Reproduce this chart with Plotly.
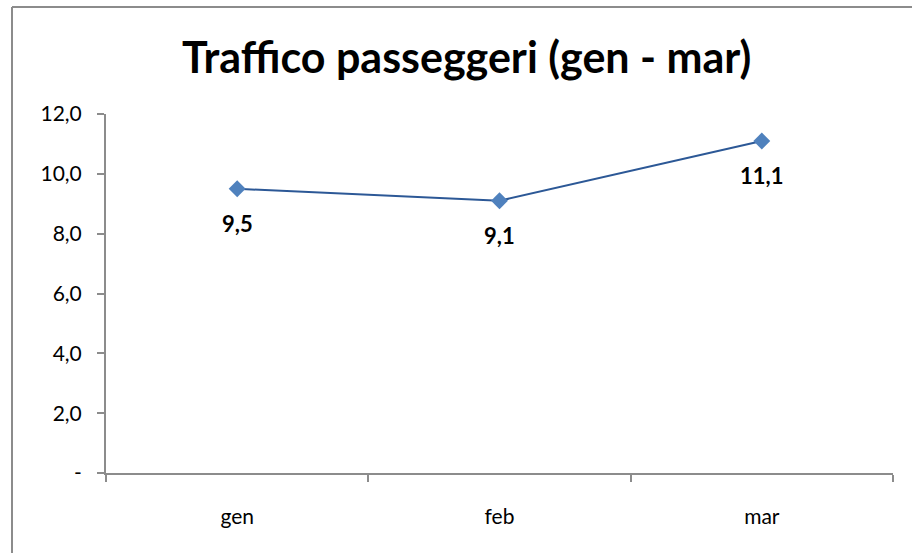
import plotly.graph_objects as go

months = ["gen", "feb", "mar"]
passengers = [9.5, 9.1, 11.1]
y_tick_vals = [0, 2, 4, 6, 8, 10, 12]
y_tick_text = ["-", "2,0", "4,0", "6,0", "8,0", "10,0", "12,0"]
data_labels = ["9,5", "9,1", "11,1"]

FONT = "Lato"
AXIS_COLOR = "#8c8c8c"

fig = go.Figure()
fig.add_trace(go.Scatter(
    x=months, y=passengers, mode="lines+markers",
    line=dict(color="#2c5896", width=2),
    marker=dict(symbol="diamond", size=13, color="#4f81bd"),
    hoverinfo="skip", showlegend=False,
))

for m, v, t in zip(months, passengers, data_labels):
    fig.add_annotation(x=m, y=v, text=t, showarrow=False, yshift=-35,
                       font=dict(family=FONT, size=22, color="#000000", weight="bold"))

fig.add_annotation(text="Traffico passeggeri (gen - mar)", xref="paper", yref="paper",
                   x=(466 - 106) / 787, y=(473 - 57) / 359, showarrow=False,
                   xanchor="center", yanchor="middle",
                   font=dict(family=FONT, size=43, color="#000000", weight="bold"))

# outer chart border (left and top edges visible)
fig.add_shape(type="line", xref="paper", yref="paper",
              x0=(12 - 106) / 787, x1=(12 - 106) / 787,
              y0=(473 - 7) / 359, y1=(473 - 600) / 359,
              line=dict(color="#8c8c8c", width=2))
fig.add_shape(type="line", xref="paper", yref="paper",
              x0=(12 - 106) / 787, x1=(960 - 106) / 787,
              y0=(473 - 7) / 359, y1=(473 - 7) / 359,
              line=dict(color="#8c8c8c", width=2))

fig.update_layout(
    width=912, height=553,
    margin=dict(l=106, r=19, t=114, b=80),
    paper_bgcolor="white", plot_bgcolor="white",
    font=dict(family=FONT, size=21, color="#000000"),
    xaxis=dict(
        type="category", range=[-0.5, 2.5], tickson="boundaries",
        showline=True, linecolor=AXIS_COLOR, linewidth=2,
        ticks="outside", ticklen=7, tickcolor=AXIS_COLOR, tickwidth=2,
        showgrid=False, zeroline=False, ticklabelstandoff=24,
        tickfont=dict(family=FONT, size=21, color="#000000"),
        fixedrange=True,
    ),
    yaxis=dict(
        range=[0, 12], tickvals=y_tick_vals, ticktext=y_tick_text,
        showline=True, linecolor=AXIS_COLOR, linewidth=2,
        ticks="outside", ticklen=7, tickcolor=AXIS_COLOR, tickwidth=2,
        showgrid=False, zeroline=False, ticklabelstandoff=11,
        tickfont=dict(family=FONT, size=21, color="#000000"),
        fixedrange=True,
    ),
)

fig.write_html("out.html", config={"displayModeBar": False},
               post_script="document.body.style.margin='0';document.body.style.padding='0';")
